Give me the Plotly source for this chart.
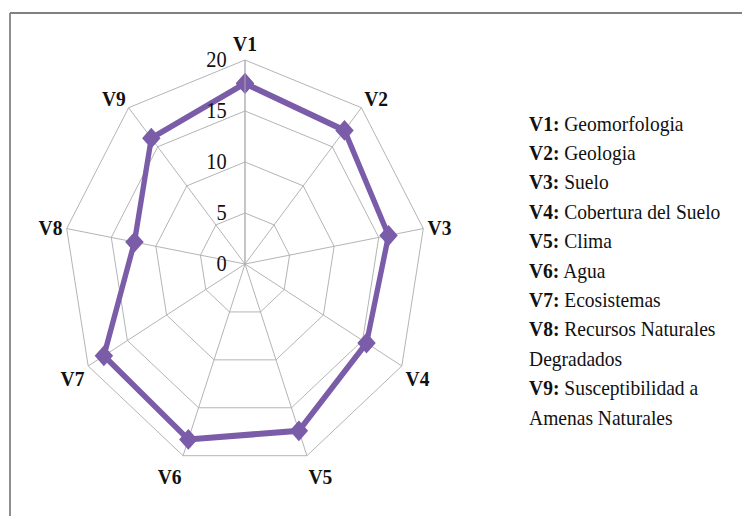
import plotly.graph_objects as go

categories = ["V1", "V2", "V3", "V4", "V5", "V6", "V7", "V8", "V9"]
values = [17.7, 17.1, 16.1, 15.5, 17.4, 18.3, 18.0, 12.4, 16.1]
radial_ticks = [0, 5, 10, 15, 20]
legend_codes = ["V1:", "V2:", "V3:", "V4:", "V5:", "V6:", "V7:", "V8:", "", "V9:", ""]
legend_texts = ["Geomorfologia", "Geologia", "Suelo", "Cobertura del Suelo", "Clima",
                "Agua", "Ecosistemas", "Recursos Naturales", "Degradados",
                "Susceptibilidad a", "Amenas Naturales"]

OFF = 8                      # page body margin
SX = 181.0 / 204.0           # the reference picture is squeezed horizontally
H = 516 - OFF
W = round((750 - OFF) / SX)
SX = (750 - OFF) / W
cx, cy, R = (245 - OFF) / SX, 264 - OFF, 204.0
serif = "Liberation Serif"
purple = "rgb(122,92,168)"

fig = go.Figure()
fig.add_trace(go.Scatterpolar(
    r=values + values[:1],
    theta=categories + categories[:1],
    mode="lines+markers",
    line=dict(color=purple, width=6),
    marker=dict(symbol="diamond", size=16, color=purple),
    showlegend=False,
))

grid = "rgb(175,175,175)"
fig.update_layout(
    width=W, height=H,
    margin=dict(l=0, r=0, t=0, b=0),
    font=dict(family=serif, color="#111"),
    paper_bgcolor="white",
    plot_bgcolor="white",
    polar=dict(
        domain=dict(x=[(cx - R) / W, (cx + R) / W],
                    y=[(H - cy - R) / H, (H - cy + R) / H]),
        bgcolor="white",
        gridshape="linear",
        radialaxis=dict(
            range=[0, 20], tickvals=radial_ticks, angle=90, side="counterclockwise",
            tickangle=90,
            showline=True, linecolor=grid, linewidth=1,
            gridcolor=grid, gridwidth=1,
            ticks="outside", ticklen=12, tickcolor="rgba(0,0,0,0)",
            tickfont=dict(family=serif, size=23, color="#111"),
        ),
        angularaxis=dict(
            categoryorder="array", categoryarray=categories,
            rotation=90, direction="clockwise",
            showline=True, linecolor=grid, linewidth=1,
            gridcolor=grid, gridwidth=1,
            ticks="",
            tickfont=dict(family=serif, size=22, color="#111", weight="bold"),
        ),
    ),
)

# frame (top and left edges)
fy = 1 - (13 - OFF) / H
fx = (10 - OFF) / SX / W
fig.add_shape(type="line", xref="paper", yref="paper",
              x0=fx, x1=1, y0=fy, y1=fy,
              line=dict(color="rgb(128,128,128)", width=2))
fig.add_shape(type="line", xref="paper", yref="paper",
              x0=fx, x1=fx, y0=0, y1=fy,
              line=dict(color="rgb(128,128,128)", width=2))

y0, dy = 123, 29.4
lx = (527 - OFF) / SX
for i, (c, t) in enumerate(zip(legend_codes, legend_texts)):
    txt = (f"<b>{c}</b> {t}" if c else t)
    fig.add_annotation(x=lx / W, y=1 - (y0 - OFF + i * dy) / H,
                       xref="paper", yref="paper",
                       xanchor="left", yanchor="middle", showarrow=False, text=txt,
                       font=dict(family=serif, size=22, color="#111"))

post = ("var d=document.getElementById('{plot_id}');"
        "d.style.transformOrigin='0 0';"
        "d.style.transform='scaleX(%.5f)';"
        "document.body.style.overflow='hidden';" % SX)
fig.write_html("out.html", post_script=post)
